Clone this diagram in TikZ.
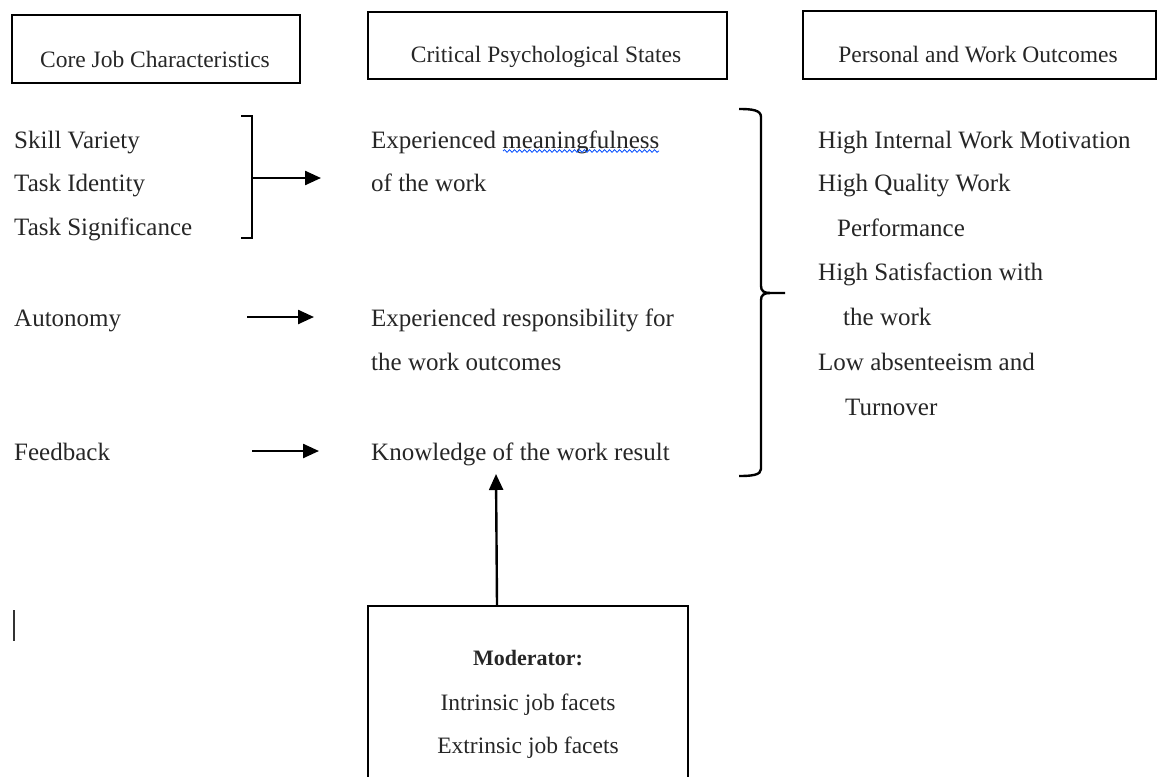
\documentclass[tikz,border=0pt]{standalone}
\usepackage{fontspec}
\setmainfont{Liberation Serif}
\usetikzlibrary{arrows.meta,decorations.pathmorphing}
\begin{document}
\begin{tikzpicture}[x=1pt,y=-1pt,
  txt/.style={anchor=base west, inner sep=0pt, font=\fontsize{25}{29}\selectfont, text=black!85},
  head/.style={anchor=base, inner sep=0pt, font=\fontsize{23.5}{29}\selectfont, text=black!85},
  hbox/.style={draw, line width=2.2pt, anchor=north west, inner sep=0pt},
  arr/.style={line width=2.4pt, -{Triangle[length=16pt,width=14pt]}},
  brk/.style={line width=2.4pt},
]
\useasboundingbox (0,0) rectangle (1166,776);
% heading boxes
\node[hbox, minimum width=288pt, minimum height=68pt] (box1) at (11,14) {};
\node[head] (h1) at (155,67) {Core Job Characteristics};
\node[hbox, minimum width=359pt, minimum height=67pt] (box2) at (367,11) {};
\node[head] (h2) at (546,63) {Critical Psychological States};
\node[hbox, minimum width=353pt, minimum height=68pt] (box3) at (802,10) {};
\node[head] (h3) at (978,63) {Personal and Work Outcomes};
% left column
\node[txt] (sv) at (14,148) {Skill Variety};
\node[txt] (ti) at (14,191) {Task Identity};
\node[txt] (ts) at (14,235) {Task Significance};
\node[txt] (au) at (14,326) {Autonomy};
\node[txt] (fb) at (14,460) {Feedback};
% middle column
\node[txt] (em1) at (371,148) {Experienced meaningfulness};
\node[txt] (em2) at (371,191) {of the work};
\node[txt] (er1) at (371,326) {Experienced responsibility for};
\node[txt] (er2) at (371,370) {the work outcomes};
\node[txt] (kn) at (371,460) {Knowledge of the work result};
% spell-check squiggle
\draw[blue!70!cyan, line width=0.8pt, decorate, decoration={snake, amplitude=1.3pt, segment length=5pt}] (503,151) -- (659,151);
% right column
\node[txt] (o1) at (818,148) {High Internal Work Motivation};
\node[txt] (o2) at (818,191) {High Quality Work};
\node[txt] (o3) at (837,236) {Performance};
\node[txt] (o4) at (818,280) {High Satisfaction with};
\node[txt] (o5) at (843,325) {the work};
\node[txt] (o6) at (818,370) {Low absenteeism and};
\node[txt] (o7) at (845,415) {Turnover};
% small bracket and arrow
\draw[brk] (241,116) -- (252,116) -- (252,238) -- (241,238);
\coordinate (b1s) at (252,178);
\coordinate (b1e) at (321,178);
\draw[arr] (b1s) -- (b1e);
% autonomy, feedback arrows
\coordinate (a1s) at (247,317);
\coordinate (a1e) at (314,317);
\draw[arr] (a1s) -- (a1e);
\coordinate (a2s) at (252,451);
\coordinate (a2e) at (319,451);
\draw[arr] (a2s) -- (a2e);
% big brace
\draw[brk] (739,109) .. controls (752,109) and (761,110) .. (761,117) -- (761,286) .. controls (761,291) and (764,293) .. (770,293) -- (785,293);
\draw[brk] (770,293) .. controls (764,293) and (761,295) .. (761,300) -- (761,469) .. controls (761,475) and (752,476) .. (739,476);
% moderator box
\draw[line width=2.2pt] (368,778) -- (368,606) -- (688,606) -- (688,778);
\coordinate (mtop) at (497,605);
\coordinate (kbot) at (496,474);
\draw[arr] (mtop) -- (kbot);
\node[head, font=\fontsize{22}{26}\selectfont\bfseries] (m1) at (528,665) {Moderator:};
\node[head] (m2) at (528,710) {Intrinsic job facets};
\node[head] (m3) at (528,753) {Extrinsic job facets};
% stray cursor line
\draw[black!80, line width=1.5pt] (14,610) -- (14,641);
\end{tikzpicture}
\end{document}
